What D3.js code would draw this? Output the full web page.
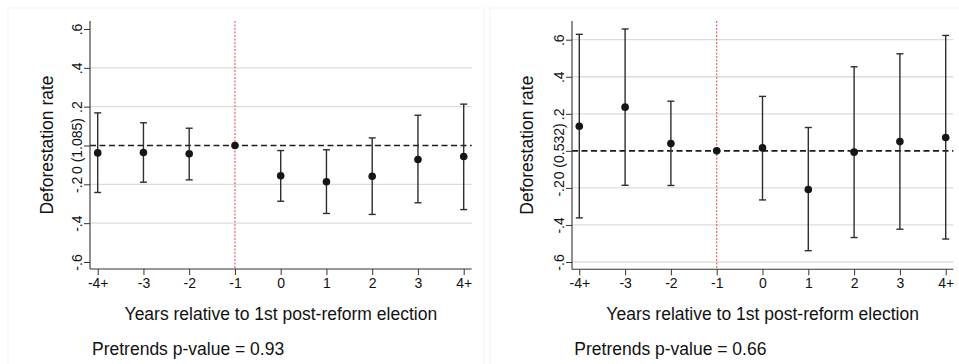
<!DOCTYPE html>
<html>
<head>
<meta charset="utf-8">
<script src="https://cdn.jsdelivr.net/npm/d3@7/dist/d3.min.js"></script>
<style>
  html, body { margin: 0; padding: 0; background: #fff; }
  svg { display: block; font-family: "Liberation Sans", Arial, sans-serif; }
</style>
</head>
<body>
<svg id="chart" width="959" height="364"></svg>
<script>
// Event-study estimates, relative to the year before the first post-reform election
const categories = ["-4+", "-3", "-2", "-1", "0", "1", "2", "3", "4+"];
const referenceCategory = "-1";

// Panel A
const estimateA = [-0.038, -0.036, -0.043, 0, -0.156, -0.187, -0.158, -0.072, -0.057];
const lowerA    = [-0.242, -0.189, -0.177, 0, -0.287, -0.350, -0.355, -0.295, -0.330];
const upperA    = [ 0.168,  0.117,  0.089, 0, -0.026, -0.022,  0.039,  0.156,  0.213];

// Panel B
const estimateB = [0.133, 0.236, 0.040, 0, 0.016, -0.209, -0.007, 0.050, 0.072];
const lowerB    = [-0.362, -0.186, -0.187, 0, -0.265, -0.539, -0.468, -0.423, -0.476];
const upperB    = [0.629, 0.658, 0.268, 0, 0.294, 0.126, 0.454, 0.524, 0.623];

const yTicks = [-0.6, -0.4, -0.2, 0, 0.2, 0.4, 0.6];
const yTickLabelsA = ["-.6", "-.4", "-.2", "0 (1.085)", ".2", ".4", ".6"];
const yTickLabelsB = ["-.6", "-.4", "-.2", "0 (0.532)", ".2", ".4", ".6"];

const yTitle = "Deforestation rate";
const xTitle = "Years relative to 1st post-reform election";
const pretrendA = "Pretrends p-value = 0.93";
const pretrendB = "Pretrends p-value = 0.66";

const svg = d3.select("#chart");
const TICK_FONT = "14px";

function drawPanel(cfg) {
  const g = svg.append("g");

  // faint panel frame
  g.append("rect")
    .attr("x", cfg.frame[0]).attr("y", cfg.frame[1])
    .attr("width", cfg.frame[2]).attr("height", cfg.frame[3])
    .attr("fill", "#fff").attr("stroke", "#f3f3f3").attr("stroke-width", 1);

  const x = d3.scalePoint().domain(categories)
    .range([cfg.xFirst, cfg.xLast]);
  const y = d3.scaleLinear().domain([-0.6, 0.6]).range(cfg.yRange);

  const left = cfg.plot[0], right = cfg.plot[1], top = cfg.plot[2], bottom = cfg.plot[3];

  // horizontal gridlines
  g.append("g").selectAll("line")
    .data(yTicks.filter(t => t !== 0 && (cfg.edgeGrid || Math.abs(t) < 0.6)))
    .join("line")
    .attr("x1", left).attr("x2", right)
    .attr("y1", d => y(d)).attr("y2", d => y(d))
    .attr("stroke", "#dcdcdc").attr("stroke-width", 1.3);

  // reference line at zero
  g.append("line")
    .attr("x1", left).attr("x2", right)
    .attr("y1", y(0)).attr("y2", y(0))
    .attr("stroke", "#1e1e1e").attr("stroke-width", 1.6)
    .attr("stroke-dasharray", "6,3.5");

  // election marker
  g.append("line")
    .attr("x1", x(referenceCategory)).attr("x2", x(referenceCategory))
    .attr("y1", top).attr("y2", bottom)
    .attr("stroke", "#e4575c").attr("stroke-width", 1.1)
    .attr("stroke-dasharray", "2,1.5");

  // y axis
  const yAxis = d3.axisLeft(y).tickValues(yTicks)
    .tickFormat((d, i) => cfg.yLabels[i]).tickSize(6).tickPadding(0);
  const ya = g.append("g").attr("transform", `translate(${left},0)`).call(yAxis);
  ya.select(".domain").remove();
  ya.selectAll(".tick line").attr("stroke", "#333").attr("stroke-width", 1);
  ya.selectAll(".tick text")
    .attr("x", 0).attr("dy", 0).attr("y", 0)
    .attr("transform", "translate(-8,0) rotate(-90)")
    .attr("text-anchor", "middle")
    .attr("fill", "#111")
    .style("font-size", TICK_FONT)
    .style("font-family", "Liberation Sans, Arial, sans-serif");
  g.append("line").attr("x1", left).attr("x2", left)
    .attr("y1", top).attr("y2", bottom)
    .attr("stroke", "#333").attr("stroke-width", 1.1);

  // x axis
  const xAxis = d3.axisBottom(x).tickSize(6).tickPadding(3);
  const xa = g.append("g").attr("transform", `translate(0,${bottom})`).call(xAxis);
  xa.select(".domain").remove();
  xa.selectAll(".tick line").attr("stroke", "#333").attr("stroke-width", 1);
  xa.selectAll(".tick text").attr("fill", "#111")
    .style("font-size", TICK_FONT)
    .style("font-family", "Liberation Sans, Arial, sans-serif");
  g.append("line").attr("x1", left).attr("x2", right)
    .attr("y1", bottom).attr("y2", bottom)
    .attr("stroke", "#333").attr("stroke-width", 1.1);

  // confidence intervals
  const rows = categories.map((c, i) => ({
    c, est: cfg.est[i], lo: cfg.lo[i], hi: cfg.hi[i]
  }));
  const bars = rows.filter(r => r.hi !== r.lo);
  const cap = 3.5;
  const eb = g.append("g").attr("stroke", "#2e2e2e").attr("stroke-width", 1.4);
  eb.selectAll("line.v").data(bars).join("line").attr("class", "v")
    .attr("x1", d => x(d.c)).attr("x2", d => x(d.c))
    .attr("y1", d => y(d.lo)).attr("y2", d => y(d.hi));
  eb.selectAll("line.t").data(bars).join("line").attr("class", "t")
    .attr("x1", d => x(d.c) - cap).attr("x2", d => x(d.c) + cap)
    .attr("y1", d => y(d.hi)).attr("y2", d => y(d.hi));
  eb.selectAll("line.b").data(bars).join("line").attr("class", "b")
    .attr("x1", d => x(d.c) - cap).attr("x2", d => x(d.c) + cap)
    .attr("y1", d => y(d.lo)).attr("y2", d => y(d.lo));

  // point estimates
  g.append("g").selectAll("circle").data(rows).join("circle")
    .attr("cx", d => x(d.c)).attr("cy", d => y(d.est))
    .attr("r", 3.8).attr("fill", "#161616");

  // titles
  g.append("text")
    .attr("transform", `translate(${cfg.yTitleX},${(top + bottom) / 2}) rotate(-90)`)
    .attr("text-anchor", "middle")
    .attr("font-size", 17.5).attr("fill", "#111")
    .text(yTitle);
  g.append("text")
    .attr("x", (left + right) / 2).attr("y", 320)
    .attr("text-anchor", "middle")
    .attr("font-size", 17.5).attr("fill", "#111")
    .text(xTitle);
  g.append("text")
    .attr("x", cfg.noteX).attr("y", 355)
    .attr("font-size", 17.5).attr("fill", "#111")
    .text(cfg.note);
}

drawPanel({
  frame: [8, 8, 476, 360],
  plot: [90, 471.7, 21, 269],
  xFirst: 97.7, xLast: 463.7,
  yRange: [262, 29],
  edgeGrid: false,
  yLabels: yTickLabelsA,
  est: estimateA, lo: lowerA, hi: upperA,
  yTitleX: 53,
  noteX: 92,
  note: pretrendA
});

drawPanel({
  frame: [490, 8, 475, 360],
  plot: [572, 953.3, 21, 269.3],
  xFirst: 579.3, xLast: 945.7,
  yRange: [262, 39.7],
  edgeGrid: true,
  yLabels: yTickLabelsB,
  est: estimateB, lo: lowerB, hi: upperB,
  yTitleX: 533,
  noteX: 574.3,
  note: pretrendB
});
</script>
</body>
</html>
